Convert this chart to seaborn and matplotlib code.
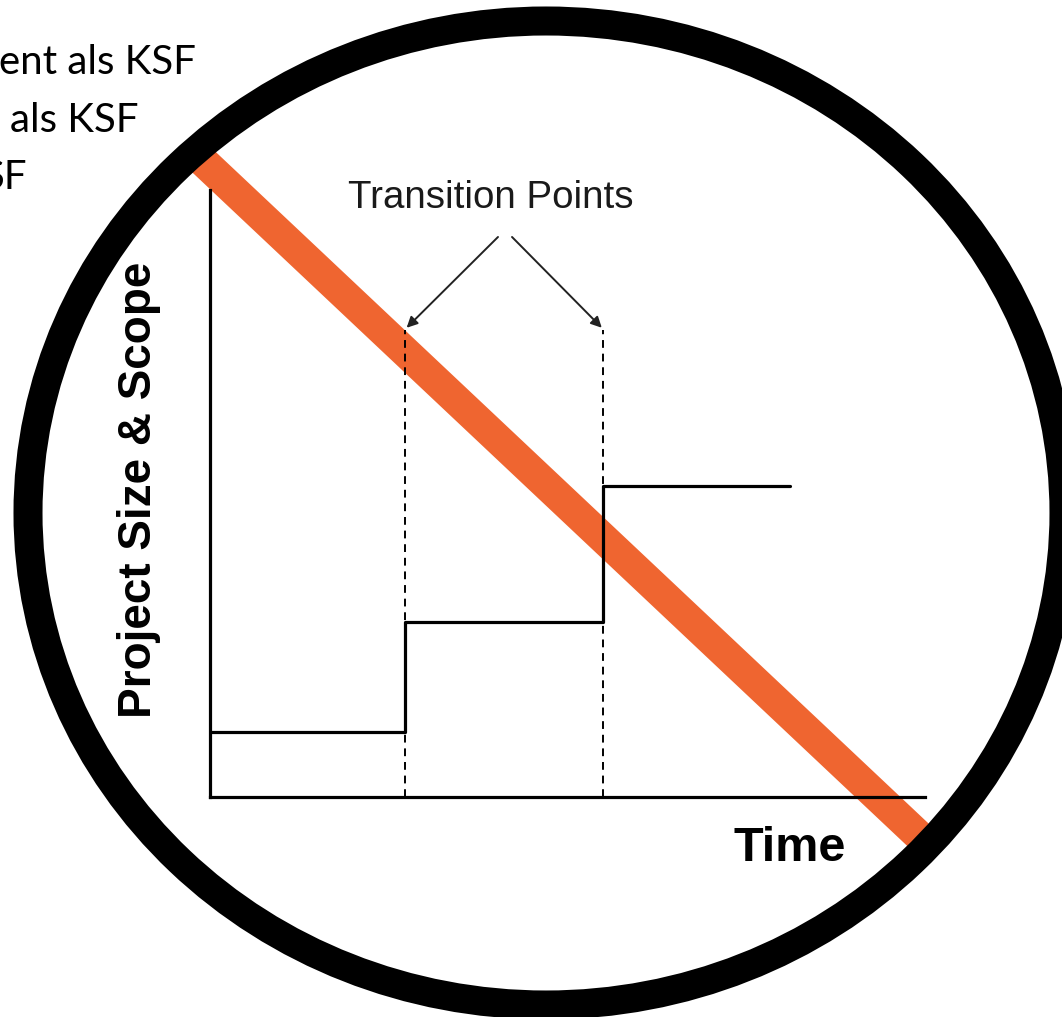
import matplotlib
matplotlib.use('Agg')
import matplotlib.pyplot as plt
import seaborn as sns
from matplotlib.patches import Ellipse

# step chart: time (0-100) vs project size & scope (0-100)
time_points = [0, 27.27, 54.97, 81.12]
size_levels = [10.71, 28.83, 51.24, 51.24]
transition_x = [27.27, 54.97]
transition_top = 76.9
arrow_tails = [(40.28, 92.26), (42.24, 92.26)]
arrow_heads = [(27.5, 77.3), (54.8, 77.3)]

# overlay ("no" sign) in pixel coordinates
slash_x = [190, 932]
slash_y = [149, 848]
ring_center = (546, 513)
ring_size = (1036, 984)

side_lines = ["ent als KSF", "als KSF", "SF"]
side_right = [196, 138, 27]
side_base = [74, 132, 189]

sns.set_style('white')
plt.rcParams['font.family'] = ['Liberation Sans', 'DejaVu Sans']

W, H = 1062, 1017
fig = plt.figure(figsize=(W / 100, H / 100), dpi=100)
fig.patch.set_facecolor('white')

# bottom overlay: orange slash + side text
ov = fig.add_axes([0, 0, 1, 1], zorder=0)
ov.set_xlim(0, W)
ov.set_ylim(H, 0)
ov.axis('off')
sns.lineplot(x=slash_x, y=slash_y, ax=ov, color='#EF6530', linewidth=22.3,
             solid_capstyle='butt', sort=False)
for txt, xr, yb in zip(side_lines, side_right, side_base):
    ov.text(xr, yb, txt, ha='right', va='baseline', fontsize=29,
            family=['Lato', 'DejaVu Sans'], color='black')

# the chart itself
ax = fig.add_axes([210 / W, 1 - 797 / H, 715 / W, 607 / H], zorder=1)
ax.patch.set_alpha(0)
sns.lineplot(x=time_points, y=size_levels, ax=ax, color='black',
             linewidth=2.3, drawstyle='steps-post')
ax.vlines(transition_x, 0, transition_top, colors='black', linewidth=1.4,
          linestyles=(0, (4, 3)))
for tail, head in zip(arrow_tails, arrow_heads):
    ax.annotate('', xy=head, xytext=tail,
                arrowprops=dict(arrowstyle='-|>', color='#222222', lw=1.4,
                                mutation_scale=16, shrinkA=0, shrinkB=0))
ax.set_xlim(0, 100)
ax.set_ylim(0, 100)
ax.set_xticks([])
ax.set_yticks([])
ax.set_xlabel('')
ax.set_ylabel('')
sns.despine(ax=ax)
for side in ['left', 'bottom']:
    ax.spines[side].set_color('black')
    ax.spines[side].set_linewidth(2.3)

# ring on top, labels
top = fig.add_axes([0, 0, 1, 1], zorder=2)
top.set_xlim(0, W)
top.set_ylim(H, 0)
top.axis('off')
top.patch.set_alpha(0)
top.add_patch(Ellipse(ring_center, ring_size[0], ring_size[1], fill=False,
                      edgecolor='black', linewidth=20.9))
top.text(491, 208, 'Transition Points', ha='center', va='baseline',
         fontsize=27.7, color='#1a1a1a')
top.text(139, 490, 'Project Size & Scope', ha='center', va='center',
         rotation=90, fontsize=33, fontweight='bold', color='black')
top.text(790, 861, 'Time', ha='center', va='baseline', fontsize=35,
         fontweight='bold', color='black')

fig.savefig('out.png', dpi=100)
plt.close(fig)
